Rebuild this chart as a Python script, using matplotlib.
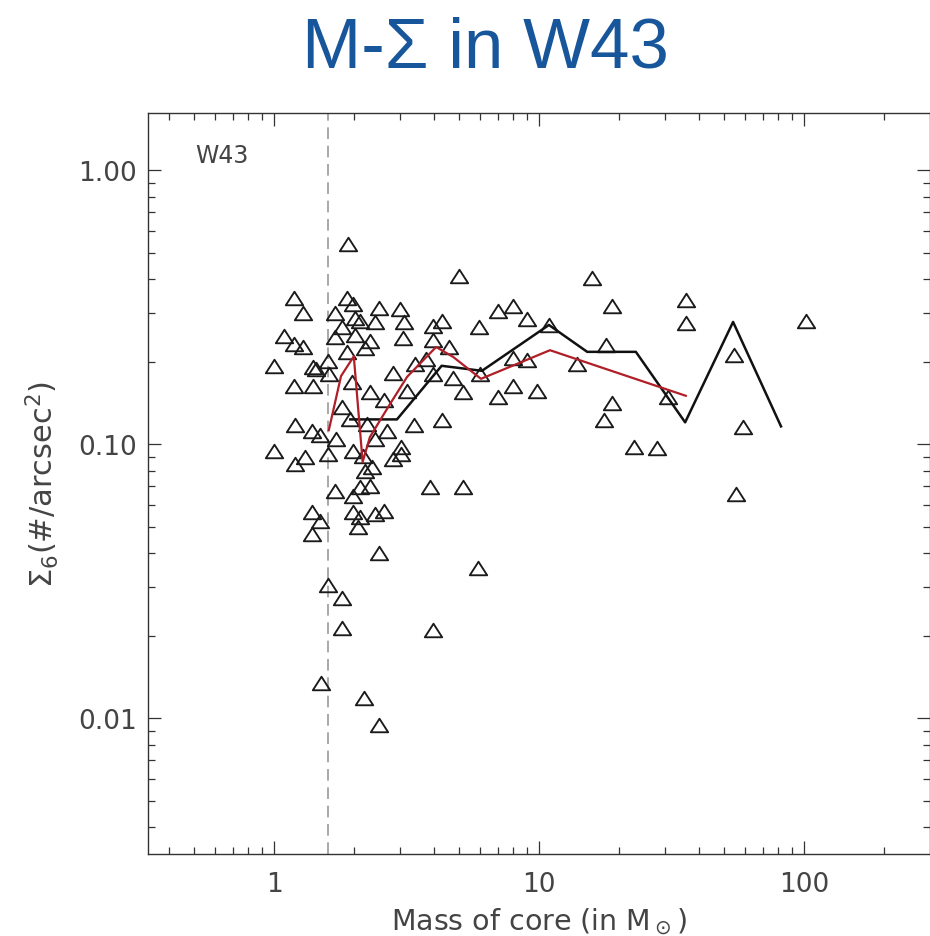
import matplotlib
matplotlib.use("Agg")
import matplotlib.pyplot as plt
from matplotlib.path import Path
from matplotlib.ticker import LogLocator, FixedLocator, FixedFormatter, NullFormatter

# ---------------- data ----------------
core_mass = [
    1.90, 4.99, 1.19, 1.29, 1.09, 1.19, 1.29, 1.00, 1.40, 1.60,
    1.19, 1.40, 1.61, 1.89, 1.99, 1.70, 2.02, 2.11, 2.40, 2.50,
    2.99, 3.10, 1.80, 1.70, 2.02, 2.30, 2.21, 3.07, 1.89, 3.99,
    4.29, 3.99, 5.95, 6.98, 8.00, 8.99, 4.59, 3.75, 3.40, 3.99,
    2.80, 1.97, 2.30, 3.18, 2.59, 1.80, 4.75, 5.15, 5.99, 6.98,
    7.96, 7.96, 8.99, 9.80, 1.44, 1.20, 1.39, 1.49, 1.72, 1.94,
    2.24, 2.40, 2.66, 3.38, 4.29, 1.00, 1.20, 1.31, 1.60, 1.99,
    2.17, 3.01, 3.01, 2.82, 2.20, 2.34, 1.70, 1.99, 2.11, 2.30,
    3.88, 5.18, 1.39, 1.49, 1.39, 1.99, 2.11, 2.08, 2.40, 2.59,
    2.50, 5.87, 1.60, 1.80, 1.80, 3.98, 1.50, 2.19, 2.50, 15.9,
    35.8, 35.8, 101.5, 18.9, 10.9, 17.9, 54.6, 13.9, 30.8, 18.9,
    17.6, 58.7, 22.8, 27.8, 55.4,
]
sigma6 = [
    0.537, 0.409, 0.341, 0.300, 0.248, 0.232, 0.226, 0.193, 0.191, 0.201,
    0.163, 0.163, 0.180, 0.341, 0.324, 0.300, 0.288, 0.282, 0.278, 0.313,
    0.311, 0.278, 0.267, 0.245, 0.250, 0.238, 0.225, 0.244, 0.216, 0.270,
    0.281, 0.240, 0.267, 0.307, 0.318, 0.286, 0.226, 0.204, 0.196, 0.180,
    0.182, 0.168, 0.155, 0.156, 0.145, 0.137, 0.174, 0.155, 0.180, 0.148,
    0.163, 0.206, 0.203, 0.156, 0.188, 0.117, 0.112, 0.108, 0.104, 0.123,
    0.118, 0.104, 0.112, 0.117, 0.122, 0.0945, 0.0845, 0.0894, 0.0919, 0.0945,
    0.0906, 0.0973, 0.0919, 0.0882, 0.0799, 0.0822, 0.0675, 0.0648, 0.0695, 0.0705,
    0.0695, 0.0695, 0.0563, 0.0525, 0.0469, 0.0563, 0.0540, 0.0497, 0.0555, 0.0571,
    0.0399, 0.0352, 0.0306, 0.0274, 0.0213, 0.0210, 0.01338, 0.0118, 0.00945, 0.403,
    0.336, 0.276, 0.282, 0.318, 0.272, 0.230, 0.211, 0.196, 0.148, 0.141,
    0.122, 0.115, 0.0973, 0.0967, 0.0657,
]

# running median (black) and smoothed trend (red)
median_mass  = [1.94, 2.91, 4.29, 6.09, 10.9, 15.2, 23.2, 35.6, 54.0, 81.9]
median_sigma = [0.123, 0.123, 0.193, 0.185, 0.272, 0.217, 0.217, 0.120, 0.279, 0.116]

trend_mass  = [1.61, 1.79, 2.00, 2.16, 2.30, 2.74, 3.18, 4.09, 4.74, 6.04, 11.0, 35.8]
trend_sigma = [0.1125, 0.177, 0.209, 0.086, 0.106, 0.140, 0.176, 0.226, 0.208, 0.173, 0.220, 0.150]

mass_limit = 1.6

x_ticks = [1, 10, 100]
x_tick_labels = ["1", "10", "100"]
y_ticks = [0.01, 0.1, 1.0]
y_tick_labels = ["0.01", "0.10", "1.00"]

title_text = "M-Σ in W43"
panel_label = "W43"
x_label = r"Mass of core (in M$_\odot$)"
y_label = r"$\Sigma_6$(#/arcsec$^2$)"

# ---------------- figure ----------------
W, H = 930, 937
fig = plt.figure(figsize=(W / 100, H / 100), dpi=100)
plt.rcParams["mathtext.fontset"] = "dejavusans"

left, right, top, bottom = 148, 930, 114, 855
ax = fig.add_axes([left / W, 1 - bottom / H, (right - left) / W, (bottom - top) / H])
ax.set_xscale("log")
ax.set_yscale("log")
ax.set_xlim(0.3345, 298.9)
ax.set_ylim(0.00319, 1.615)

grey = "#444444"

# dashed mass limit
ax.axvline(mass_limit, color="#9a9a9a", lw=1.2, dashes=(7, 4), zorder=1)

# custom wide triangle marker
tri = Path([(-1, -0.78), (1, -0.78), (0, 0.78), (-1, -0.78)],
           [Path.MOVETO, Path.LINETO, Path.LINETO, Path.CLOSEPOLY])
ax.plot(core_mass, sigma6, linestyle="none", marker=tri, markersize=12.5,
        markerfacecolor="none", markeredgecolor="#1a1a1a", markeredgewidth=1.35,
        zorder=3)

ax.plot(median_mass, median_sigma, color="#111111", lw=1.8, zorder=4)
ax.plot(trend_mass, trend_sigma, color="#b01e28", lw=1.6, zorder=5)

# ticks
for axis in (ax.xaxis, ax.yaxis):
    axis.set_minor_locator(LogLocator(base=10, subs=range(2, 10), numticks=20))
    axis.set_minor_formatter(NullFormatter())
ax.xaxis.set_major_locator(FixedLocator(x_ticks))
ax.xaxis.set_major_formatter(FixedFormatter(x_tick_labels))
ax.yaxis.set_major_locator(FixedLocator(y_ticks))
ax.yaxis.set_major_formatter(FixedFormatter(y_tick_labels))

ax.tick_params(which="both", direction="in", top=True, right=True,
               color="#333333", width=0.9, labelcolor=grey, labelsize=19)
ax.tick_params(which="major", length=9.5)
ax.tick_params(which="minor", length=4.8)
ax.tick_params(axis="x", which="major", pad=12)
ax.tick_params(axis="y", which="major", pad=8)

for sp in ax.spines.values():
    sp.set_color("#333333")
    sp.set_linewidth(1.0)

ax.set_xlabel(x_label, fontsize=20.5, color=grey, labelpad=6)
ax.set_ylabel(y_label, fontsize=22, color=grey, labelpad=12)

ax.text(0.0603, 0.934, panel_label, transform=ax.transAxes, fontsize=17,
        color=grey, ha="left", va="baseline")

fig.text(485 / W, 1 - 68 / H, title_text, fontsize=51, color="#17569b",
         family=["Liberation Sans", "DejaVu Sans"], ha="center", va="baseline")

fig.savefig("out.png", dpi=100)
